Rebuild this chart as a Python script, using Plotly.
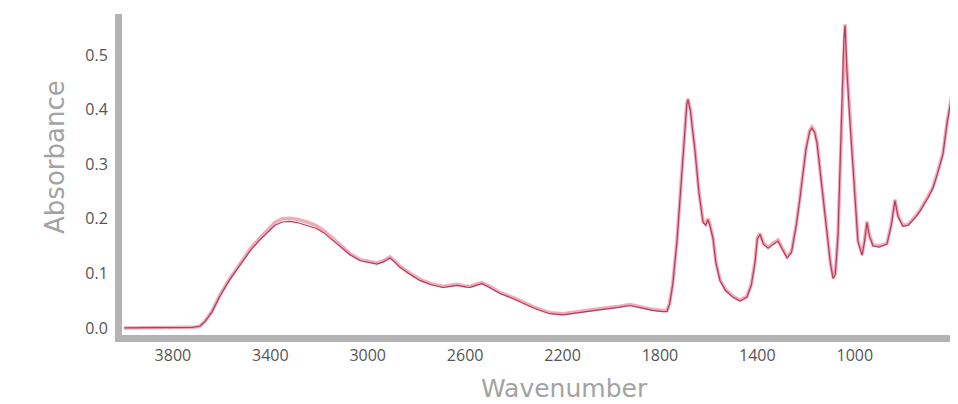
import plotly.graph_objects as go

wavenumber = [4000, 3900, 3800, 3720, 3690, 3669, 3640, 3607, 3570, 3525, 3480, 3443, 3410, 3381,
              3350, 3320, 3290, 3250, 3210, 3180, 3143, 3110, 3073, 3030, 2990, 2962, 2935, 2909,
              2890, 2868, 2830, 2786, 2740, 2691, 2660, 2634, 2600, 2580, 2555, 2531, 2500, 2457,
              2400, 2350, 2321, 2280, 2252, 2198, 2150, 2116, 2050, 1976, 1923, 1882, 1830, 1790,
              1771, 1760, 1747, 1730, 1718, 1700, 1690, 1685, 1675, 1665, 1656, 1640, 1623, 1612,
              1603, 1595, 1582, 1570, 1553, 1530, 1500, 1471, 1443, 1425, 1410, 1400, 1389, 1375,
              1356, 1335, 1315, 1300, 1278, 1260, 1240, 1225, 1200, 1185, 1176, 1165, 1155, 1135,
              1114, 1100, 1089, 1080, 1069, 1060, 1052, 1045, 1040, 1036, 1032, 1020, 1007, 995,
              987, 970, 960, 950, 940, 925, 900, 868, 850, 835, 822, 802, 780, 750, 732, 700, 679,
              660, 638, 620, 600, 590, 576, 560]

absorbance_1 = [0.0, 0.0, 0.0, 0.001, 0.003, 0.012, 0.03, 0.06, 0.088, 0.118, 0.146, 0.165, 0.181, 0.193,
                0.2, 0.201, 0.199, 0.194, 0.187, 0.178, 0.164, 0.151, 0.136, 0.125, 0.121, 0.119, 0.123, 0.13,
                0.123, 0.113, 0.101, 0.089, 0.081, 0.076, 0.078, 0.08, 0.077, 0.076, 0.08, 0.083, 0.076, 0.065,
                0.055, 0.044, 0.039, 0.032, 0.028, 0.026, 0.029, 0.032, 0.035, 0.039, 0.043, 0.039, 0.034, 0.032,
                0.032, 0.046, 0.083, 0.161, 0.235, 0.36, 0.41, 0.42, 0.4, 0.36, 0.326, 0.25, 0.195, 0.19,
                0.2, 0.19, 0.165, 0.12, 0.088, 0.07, 0.058, 0.051, 0.058, 0.08, 0.12, 0.165, 0.173, 0.155,
                0.148, 0.155, 0.161, 0.148, 0.13, 0.14, 0.19, 0.24, 0.33, 0.362, 0.368, 0.36, 0.34, 0.26,
                0.175, 0.12, 0.092, 0.1, 0.17, 0.3, 0.42, 0.53, 0.556, 0.5, 0.47, 0.38, 0.29, 0.2,
                0.16, 0.135, 0.16, 0.195, 0.17, 0.152, 0.15, 0.155, 0.19, 0.235, 0.205, 0.188, 0.19, 0.205, 0.216, 0.24, 0.258,
                0.285, 0.32, 0.38, 0.43, 0.42, 0.4, 0.38]

absorbance_2 = [0.0, 0.0, 0.0, 0.001, 0.003, 0.011, 0.029, 0.058, 0.086, 0.115, 0.143, 0.161, 0.176, 0.188,
                0.194, 0.195, 0.193, 0.188, 0.182, 0.174, 0.16, 0.148, 0.134, 0.123, 0.119, 0.117, 0.121, 0.128,
                0.121, 0.111, 0.099, 0.087, 0.079, 0.074, 0.076, 0.078, 0.075, 0.074, 0.078, 0.081, 0.074, 0.063,
                0.053, 0.042, 0.037, 0.03, 0.026, 0.024, 0.027, 0.03, 0.033, 0.037, 0.041, 0.037, 0.032, 0.03,
                0.03, 0.044, 0.081, 0.159, 0.233, 0.358, 0.408, 0.418, 0.398, 0.358, 0.324, 0.248, 0.193, 0.188,
                0.198, 0.188, 0.163, 0.118, 0.086, 0.068, 0.056, 0.049, 0.056, 0.078, 0.118, 0.163, 0.171, 0.153,
                0.146, 0.153, 0.159, 0.146, 0.128, 0.138, 0.188, 0.238, 0.328, 0.36, 0.366, 0.358, 0.338, 0.258,
                0.173, 0.118, 0.09, 0.098, 0.168, 0.298, 0.418, 0.528, 0.554, 0.498, 0.468, 0.378, 0.288, 0.198,
                0.158, 0.133, 0.158, 0.193, 0.168, 0.15, 0.148, 0.153, 0.188, 0.233, 0.203, 0.186, 0.188, 0.203, 0.214, 0.238, 0.256,
                0.283, 0.318, 0.378, 0.428, 0.418, 0.398, 0.378]

x_ticks = [3800, 3400, 3000, 2600, 2200, 1800, 1400, 1000, 600]
y_ticks = [0.0, 0.1, 0.2, 0.3, 0.4, 0.5]
y_tick_labels = ["0.0", "0.1", "0.2", "0.3", "0.4", "0.5"]

fig = go.Figure()
fig.add_trace(go.Scatter(x=wavenumber, y=absorbance_1, mode="lines",
                         line=dict(color="rgba(236,150,168,0.8)", width=3.5), showlegend=False))
fig.add_trace(go.Scatter(x=wavenumber, y=absorbance_2, mode="lines",
                         line=dict(color="#b23c5e", width=1.2), showlegend=False))

axis_color = "#b3b3b3"
tick_font = dict(family="Open Sans", size=16, color="#555555")
fig.update_xaxes(range=[4009, 609], showline=True, linecolor=axis_color, linewidth=7,
                 showgrid=False, zeroline=False, ticks="", tickvals=x_ticks,
                 tickfont=tick_font, ticklabelstandoff=0, ticklabeloverflow="allow")
fig.update_yaxes(range=[-0.013, 0.575], showline=True, linecolor=axis_color, linewidth=7,
                 showgrid=False, zeroline=False, ticks="", tickvals=y_ticks, ticktext=y_tick_labels,
                 tickfont=tick_font, ticklabelstandoff=4)

fig.add_annotation(text="Absorbance", xref="paper", yref="paper", x=-0.081, y=0.5545,
                   xanchor="center", yanchor="middle", textangle=-90, showarrow=False,
                   font=dict(family="DejaVu Sans", size=26, color="#a3a3a3"))
fig.add_annotation(text="Wavenumber", xref="paper", yref="paper", x=0.534, y=-0.168,
                   xanchor="center", yanchor="middle", showarrow=False,
                   font=dict(family="DejaVu Sans", size=25, color="#a3a3a3"))

fig.update_layout(width=942, height=396, margin=dict(l=114, r=0, t=6, b=69),
                  paper_bgcolor="white", plot_bgcolor="white")
fig.write_html("out.html")
